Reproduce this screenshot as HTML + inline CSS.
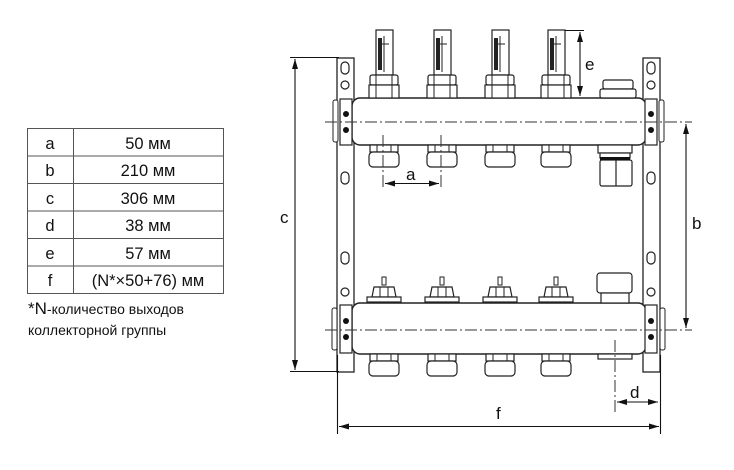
<!DOCTYPE html>
<html><head><meta charset="utf-8"><style>
html,body{margin:0;padding:0;background:#fff;width:734px;height:470px;overflow:hidden}
svg{display:block}
text{font-family:"Liberation Sans",Arial,sans-serif;fill:#111}
</style></head><body>
<svg width="734" height="470" viewBox="0 0 734 470" xmlns="http://www.w3.org/2000/svg">
<defs>
<marker id="ar" viewBox="0 0 10 6" refX="10" refY="3" markerWidth="10" markerHeight="6" orient="auto-start-reverse" markerUnits="userSpaceOnUse"><path d="M0,0 L10,3 L0,6 z" fill="#111"/></marker>
<g id="flow">
 <rect x="-8" y="30" width="17" height="45" fill="#fff" stroke="#222" stroke-width="1.2"/>
 <rect x="-6" y="38" width="4" height="32" fill="#222"/>
 <line x1="0" y1="36" x2="0" y2="72" stroke="#222"/>
 <line x1="-4" y1="44" x2="5" y2="44" stroke="#222"/>
 <rect x="-14" y="75" width="28" height="10" rx="2" fill="#fff" stroke="#222" stroke-width="1.2"/>
 <rect x="-15" y="85" width="30" height="13" fill="#fff" stroke="#222" stroke-width="1.2"/>
 <line x1="-8" y1="75" x2="-8" y2="98" stroke="#222"/><line x1="8" y1="75" x2="8" y2="98" stroke="#222"/>
</g>
<g id="bfit">
 <rect x="-14" y="0" width="28" height="7" fill="#fff" stroke="#222" stroke-width="1.2"/>
 <line x1="-7" y1="0" x2="-7" y2="7" stroke="#222"/><line x1="7" y1="0" x2="7" y2="7" stroke="#222"/>
 <rect x="-15" y="7" width="30" height="15" rx="4" fill="#fff" stroke="#222" stroke-width="1.2"/>
</g>
<g id="valve">
 <rect x="-2" y="0" width="4" height="8" fill="#fff" stroke="#222"/>
 <path d="M-12,20 L-10,10 L10,10 L12,20 Z" fill="#fff" stroke="#222" stroke-width="1.2"/>
 <line x1="-4" y1="10" x2="-4" y2="20" stroke="#222"/><line x1="4" y1="10" x2="4" y2="20" stroke="#222"/>
 <rect x="-17" y="20" width="34" height="5" fill="#fff" stroke="#222" stroke-width="1.2"/>
</g>
<g id="brk">
 <rect x="0" y="0" width="17" height="314" fill="#fff" stroke="#222" stroke-width="1.3"/>
</g>
</defs>

<!-- table -->
<g stroke="#555" stroke-width="1" fill="none">
 <rect x="27.5" y="128.5" width="196" height="165"/>
 <line x1="73.5" y1="128" x2="73.5" y2="293"/>
 <line x1="27" y1="156" x2="224" y2="156"/>
 <line x1="27" y1="183.5" x2="224" y2="183.5"/>
 <line x1="27" y1="211" x2="224" y2="211"/>
 <line x1="27" y1="238.5" x2="224" y2="238.5"/>
 <line x1="27" y1="266" x2="224" y2="266"/>
</g>
<g font-size="16.5" text-anchor="middle">
 <text x="50" y="149">a</text><text x="148" y="149">50 мм</text>
 <text x="50" y="176">b</text><text x="148" y="176">210 мм</text>
 <text x="50" y="204">c</text><text x="148" y="204">306 мм</text>
 <text x="50" y="231">d</text><text x="148" y="231">38 мм</text>
 <text x="50" y="259">e</text><text x="148" y="259">57 мм</text>
 <text x="50" y="286">f</text><text x="148" y="286">(N*×50+76) мм</text>
</g>
<text x="28" y="314" font-size="14"><tspan font-size="17">*N</tspan>-количество выходов</text>
<text x="28" y="335" font-size="14">коллекторной группы</text>

<!-- brackets -->
<use href="#brk" x="337" y="58"/>
<use href="#brk" x="643" y="58"/>
<g fill="none" stroke="#222" stroke-width="1.2">
 <rect x="341" y="62" width="8" height="12" rx="4"/><rect x="341" y="172" width="8" height="12" rx="4"/><rect x="341" y="252" width="8" height="12" rx="4"/>
 <rect x="647" y="62" width="8" height="12" rx="4"/><rect x="647" y="172" width="8" height="12" rx="4"/><rect x="647" y="252" width="8" height="12" rx="4"/>
 <circle cx="345" cy="85" r="4"/><circle cx="651" cy="85" r="4"/>
 <circle cx="345" cy="292" r="4"/><circle cx="651" cy="292" r="4"/>
</g>

<!-- top pipe -->
<rect x="352" y="98" width="294" height="47" rx="8" fill="#fff" stroke="#222" stroke-width="1.4"/>
<rect x="340" y="99" width="12" height="46" fill="#fff" stroke="#222" stroke-width="1.2"/>
<rect x="645" y="99" width="12" height="46" fill="#fff" stroke="#222" stroke-width="1.2"/>
<rect x="333" y="100" width="5" height="42" rx="2" fill="#fff" stroke="#222"/>
<rect x="659" y="100" width="5" height="42" rx="2" fill="#fff" stroke="#222"/>
<circle cx="346" cy="114" r="3" fill="#111"/><circle cx="346" cy="130" r="3" fill="#111"/>
<circle cx="651" cy="114" r="3" fill="#111"/><circle cx="651" cy="130" r="3" fill="#111"/>

<!-- bottom pipe -->
<rect x="352" y="303" width="294" height="51" rx="8" fill="#fff" stroke="#222" stroke-width="1.4"/>
<rect x="340" y="305" width="12" height="48" fill="#fff" stroke="#222" stroke-width="1.2"/>
<rect x="645" y="305" width="12" height="48" fill="#fff" stroke="#222" stroke-width="1.2"/>
<rect x="332" y="308" width="5" height="42" rx="2" fill="#fff" stroke="#222"/>
<rect x="660" y="308" width="5" height="42" rx="2" fill="#fff" stroke="#222"/>
<circle cx="346" cy="321" r="3" fill="#111"/><circle cx="346" cy="337" r="3" fill="#111"/>
<circle cx="651" cy="321" r="3" fill="#111"/><circle cx="651" cy="337" r="3" fill="#111"/>

<!-- flowmeters -->
<use href="#flow" x="384" y="0"/><use href="#flow" x="442" y="0"/><use href="#flow" x="500" y="0"/><use href="#flow" x="556" y="0"/>
<use href="#bfit" x="384" y="145"/><use href="#bfit" x="442" y="145"/><use href="#bfit" x="500" y="145"/><use href="#bfit" x="556" y="145"/>
<use href="#valve" x="384" y="277"/><use href="#valve" x="442" y="277"/><use href="#valve" x="500" y="277"/><use href="#valve" x="556" y="277"/>
<use href="#bfit" x="384" y="354"/><use href="#bfit" x="442" y="354"/><use href="#bfit" x="500" y="354"/><use href="#bfit" x="556" y="354"/>

<!-- right fittings -->
<g fill="#fff" stroke="#222" stroke-width="1.2">
 <rect x="603" y="80" width="30" height="9" rx="2"/><rect x="600" y="89" width="36" height="9" rx="2"/>
 <rect x="598" y="145" width="34" height="8"/>
 <rect x="600" y="153" width="30" height="5"/>
 <rect x="600" y="160" width="32" height="26" rx="2"/>
 <line x1="616" y1="160" x2="616" y2="186"/>
 <rect x="597" y="273" width="35" height="20" rx="3"/>
 <rect x="601" y="293" width="28" height="10"/>
 <rect x="598" y="354" width="34" height="5"/>
</g>
<rect x="600" y="157" width="30" height="3" fill="#111"/>

<!-- centerlines -->
<g stroke="#333" stroke-width="1" stroke-dasharray="12,3,2,3" fill="none">
 <line x1="325" y1="122" x2="692" y2="122"/>
 <line x1="325" y1="330" x2="692" y2="330"/>
 <line x1="383" y1="135" x2="383" y2="190"/>
 <line x1="441" y1="135" x2="441" y2="190"/>
 <line x1="615" y1="340" x2="615" y2="415"/>
</g>

<!-- dimensions -->
<g stroke="#111" stroke-width="1.1" fill="none">
 <line x1="290" y1="57.5" x2="339" y2="57.5"/>
 <line x1="290" y1="371.5" x2="339" y2="371.5"/>
 <line x1="295" y1="59" x2="295" y2="370" marker-start="url(#ar)" marker-end="url(#ar)"/>
 <line x1="686" y1="124" x2="686" y2="328" marker-start="url(#ar)" marker-end="url(#ar)"/>
 <line x1="565" y1="30.5" x2="584" y2="30.5"/>
 <line x1="580" y1="32" x2="580" y2="96" marker-start="url(#ar)" marker-end="url(#ar)"/>
 <line x1="385" y1="183.5" x2="439" y2="183.5" marker-start="url(#ar)" marker-end="url(#ar)"/>
 <line x1="617" y1="402" x2="658" y2="402" marker-start="url(#ar)" marker-end="url(#ar)"/>
 <line x1="337.5" y1="355" x2="337.5" y2="434"/>
 <line x1="660.5" y1="355" x2="660.5" y2="434"/>
 <line x1="339" y1="426.5" x2="659" y2="426.5" marker-start="url(#ar)" marker-end="url(#ar)"/>
</g>
<g font-size="17">
 <text x="280" y="223">c</text>
 <text x="692" y="229">b</text>
 <text x="585" y="70">e</text>
 <text x="406" y="180">a</text>
 <text x="630" y="398">d</text>
 <text x="496" y="419">f</text>
</g>
</svg>
</body></html>
